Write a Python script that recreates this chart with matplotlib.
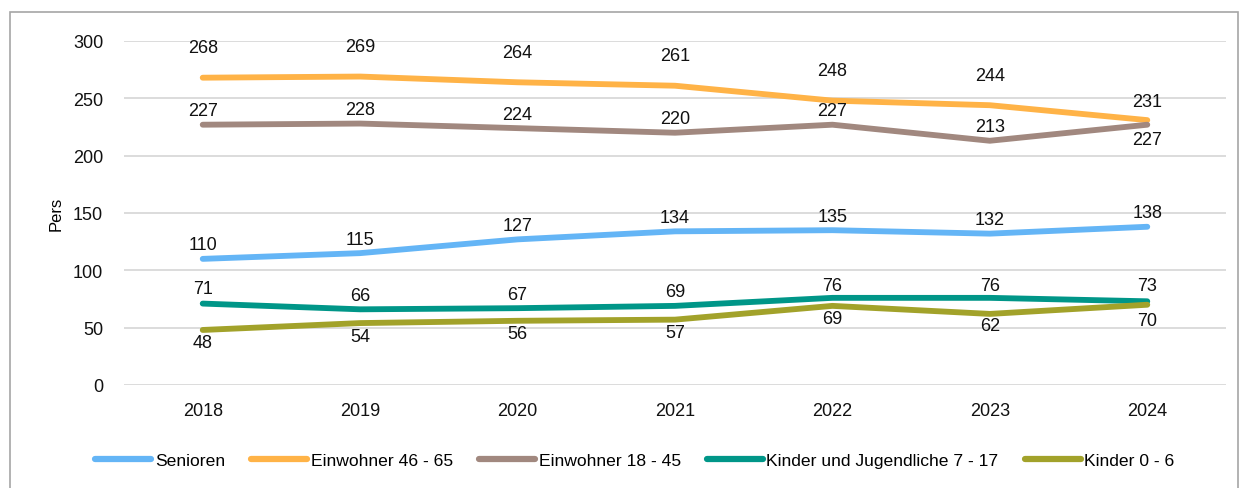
import matplotlib.pyplot as plt
from matplotlib.patches import Rectangle

years = ["2018", "2019", "2020", "2021", "2022", "2023", "2024"]
senioren = [110, 115, 127, 134, 135, 132, 138]
einw_46_65 = [268, 269, 264, 261, 248, 244, 231]
einw_18_45 = [227, 228, 224, 220, 227, 213, 227]
kinder_7_17 = [71, 66, 67, 69, 76, 76, 73]
kinder_0_6 = [48, 54, 56, 57, 69, 62, 70]

series = [
    ("Senioren", senioren, "#64B5F6"),
    ("Einwohner 46 - 65", einw_46_65, "#FFB347"),
    ("Einwohner 18 - 45", einw_18_45, "#A1887F"),
    ("Kinder und Jugendliche 7 - 17", kinder_7_17, "#009688"),
    ("Kinder 0 - 6", kinder_0_6, "#A2A22A"),
]
# label offsets in pixels (positive = above the line)
offsets = {
    "Senioren": [14] * 7,
    "Einwohner 46 - 65": [30, 30, 30, 30, 30, 30, 19],
    "Einwohner 18 - 45": [14, 14, 14, 14, 14, 14, -15],
    "Kinder und Jugendliche 7 - 17": [15, 14, 14, 14, 12, 12, 16],
    "Kinder 0 - 6": [-13, -13, -13, -13, -13, -12, -16],
}

FONT = "Liberation Sans"
FS = 13
W, H = 1244, 489

fig = plt.figure(figsize=(W / 100, H / 100), dpi=100)
ax = fig.add_axes([124 / W, 1 - 386 / H, (1226 - 124) / W, 344 / H])

x = list(range(len(years)))
for name, vals, color in series:
    ax.plot(x, vals, color=color, lw=4.2, solid_capstyle="round",
            solid_joinstyle="round", label=name, zorder=3)
    for xi, v, off in zip(x, vals, offsets[name]):
        ax.annotate(str(v), (xi, v), xytext=(0, off * 0.72),
                    textcoords="offset points", ha="center", va="center",
                    fontsize=FS, fontfamily=FONT, color="#111111", zorder=4)

ax.set_xlim(-0.5, len(years) - 0.5)
ax.set_ylim(0, 300)
ax.set_yticks(range(0, 301, 50))
ax.set_xticks(x)
ax.set_xticklabels(years)
ax.grid(axis="y", color="#D9D9D9", lw=1.3)
ax.set_axisbelow(True)
for s in ax.spines.values():
    s.set_visible(False)
ax.tick_params(length=0, labelsize=FS, pad=12)
ax.tick_params(axis="y", pad=15)
for lab in ax.get_xticklabels() + ax.get_yticklabels():
    lab.set_fontfamily(FONT)
    lab.set_color("#111111")
ax.set_ylabel("Pers", fontsize=12, fontfamily=FONT)
ax.yaxis.set_label_coords((64 - 124) / 1102, 0.5)

leg = fig.legend(loc="center", bbox_to_anchor=(635 / W, 1 - 461 / H), ncol=5,
                 frameon=False, handlelength=3.2, handletextpad=0.2,
                 columnspacing=1.5, prop={"family": FONT, "size": 12.6})
for h in leg.get_lines():
    h.set_linewidth(4.5)
    h.set_solid_capstyle("round")

fig.patches.append(Rectangle((10 / W, -0.1), (1238 - 10) / W, 1.1 - 13 / H,
                             transform=fig.transFigure, fill=False,
                             edgecolor="#A6A6A6", lw=1.2))

fig.savefig("out.png", dpi=100, facecolor="white")
